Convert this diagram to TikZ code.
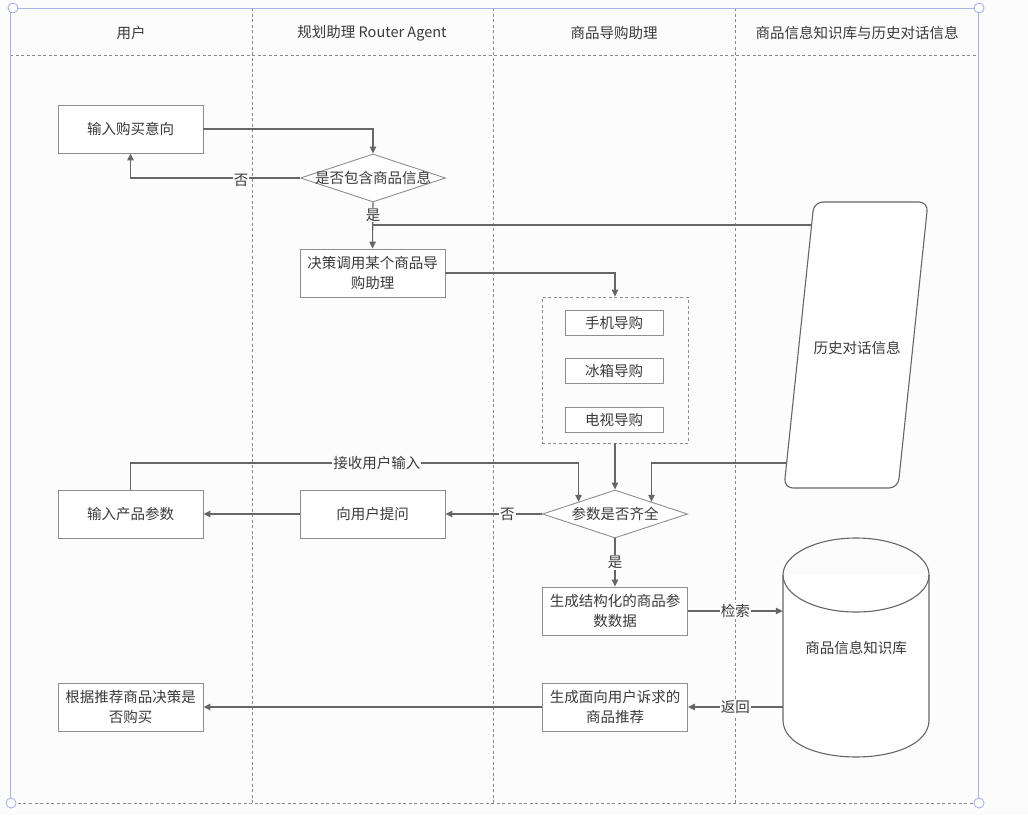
\documentclass[tikz,border=0pt]{standalone}
\usepackage{fontspec}
\newfontfamily\cjk{Noto Sans CJK SC}
\usetikzlibrary{arrows.meta,shapes.geometric,calc}
\definecolor{txt}{HTML}{3A3A3A}
\definecolor{linec}{HTML}{666666}
\definecolor{boxc}{HTML}{8E8E8E}
\definecolor{lanec}{HTML}{8A8A8A}
\definecolor{selc}{HTML}{A9B3EA}
\definecolor{bgc}{HTML}{FCFCFC}
\begin{document}
\begin{tikzpicture}[x=1pt,y=-1pt,
  every node/.style={font=\cjk\fontsize{14.5}{20}\selectfont, text=txt},
  box/.style={draw=boxc, line width=0.9pt, minimum width=145pt, minimum height=48pt, align=center, inner sep=2pt, fill=white},
  smallbox/.style={draw=boxc, line width=0.9pt, minimum width=98pt, minimum height=25pt, inner sep=1pt, fill=white},
  dec/.style={diamond, draw=boxc, line width=0.9pt, inner sep=0pt, minimum width=145pt, minimum height=48pt, fill=white},
  conn/.style={draw=linec, line width=1.1pt},
  arr/.style={conn, -{Triangle[length=7pt,width=6.5pt]}},
  lbl/.style={fill=bgc, inner sep=1pt},
  lane/.style={draw=lanec, line width=0.7pt, dash pattern=on 3pt off 2.5pt},
  head/.style={font=\cjk\fontsize{14.5}{18}\selectfont}
]
\useasboundingbox (0,0) rectangle (1028,815);
\fill[bgc] (0,0) rectangle (1028,815);

% swimlane frame
\draw[lane] (10,8) rectangle (978,803);
\draw[lane] (10,55) -- (978,55);
\draw[lane] (252,8) -- (252,803);
\draw[lane] (493,8) -- (493,803);
\draw[lane] (735,8) -- (735,803);
% selection outline
\draw[selc, line width=0.9pt] (10,8) -- (978,8) -- (978,803);
\draw[selc, line width=0.9pt] (10,8) -- (10,803);
\draw[selc, line width=0.9pt, fill=white] (13,8) circle (5pt);
\draw[selc, line width=0.9pt, fill=white] (979,8) circle (5pt);
\draw[selc, line width=0.9pt, fill=white] (11,803) circle (5pt);
\draw[selc, line width=0.9pt, fill=white] (979,803) circle (5pt);

% headers
\node[head] (h1) at (131,33) {用户};
\node[head] (h2) at (372,33) {规划助理 Router Agent};
\node[head] (h3) at (614,33) {商品导购助理};
\node[head] (h4) at (857,33) {商品信息知识库与历史对话信息};

% history shape
\draw[draw=linec, line width=1.1pt, fill=white, rounded corners=9pt]
  (814,202) -- (928,202) -- (898,488) -- (784,488) -- cycle;
\node (hist) at (857,348) {历史对话信息};
\coordinate (histA) at (811.6,225);
\coordinate (histB) at (786.6,463);

% knowledge base cylinder
\draw[draw=linec, line width=1.1pt, fill=white]
  (783,575) -- (783,720) .. controls (783,769.3) and (929,769.3) .. (929,720) -- (929,575);
\draw[draw=linec, line width=1.1pt] (856,575) ellipse [x radius=73pt, y radius=37pt];
\node[minimum width=146pt, minimum height=219pt, inner sep=0pt] (db) at (856,647.5) {商品信息知识库};

% user lane
\node[box] (in1) at (130.5,129) {输入购买意向};
\node[box] (in2) at (130.5,514) {输入产品参数};
\node[box] (fin) at (130.5,707) {根据推荐商品决策是\\否购买};

% router lane
\node[dec] (d1) at (373,178) {};
\node (d1t) at (d1.center) {是否包含商品信息};
\node[box] (dcall) at (372.5,273) {决策调用某个商品导\\购助理};
\node[box] (ask) at (372.5,514) {向用户提问};

% shopping assistant lane
\node[draw=boxc, line width=0.8pt, dash pattern=on 3pt off 2.5pt, minimum width=146pt, minimum height=146pt] (grp) at (615,370) {};
\node[smallbox] (s1) at (614,322.5) {手机导购};
\node[smallbox] (s2) at (614,370.5) {冰箱导购};
\node[smallbox] (s3) at (614,419.5) {电视导购};
\node[dec] (d2) at (615,514) {};
\node (d2t) at (d2.center) {参数是否齐全};
\node[box] (gen1) at (615,611) {生成结构化的商品参\\数数据};
\node[box] (gen2) at (615,707) {生成面向用户诉求的\\商品推荐};

\coordinate (d2ne) at ($(d2.north)!0.5!(d2.east)$);
\coordinate (d2nw) at ($(d2.north)!0.5!(d2.west)$);

% connectors
\draw[arr] (in1.east) -- (in1.east -| d1.north) -- (d1.north);
\draw[arr] (d1.west) -- (d1.west -| in1.south) -- (in1.south);
\node[lbl] (no1) at (241,180) {否};
\draw[arr] (d1.south) -- (dcall.north);
\node[lbl] (yes1) at (373,215) {是};
\draw[conn] (histA) -- (histA -| d1.south);
\draw[arr] (dcall.east) -- (dcall.east -| grp.north) -- (grp.north);
\draw[arr] (grp.south) -- (d2.north);
\draw[arr] (histB) -- (histB -| d2ne) -- (d2ne);
\draw[arr] (in2.north) -- (in2.north |- histB) -- node[lbl, pos=0.55] {接收用户输入} (d2nw |- histB) -- (d2nw);
\draw[arr] (d2.west) -- node[lbl, pos=0.36] {否} (ask.east);
\draw[arr] (ask.west) -- (in2.east);
\draw[arr] (d2.south) -- node[lbl] {是} (gen1.north);
\draw[arr] (gen1.east) -- node[lbl] {检索} (gen1.east -| db.west);
\draw[arr] (gen2.east -| db.west) -- node[lbl] {返回} (gen2.east);
\draw[arr] (gen2.west) -- (fin.east);
\end{tikzpicture}
\end{document}
